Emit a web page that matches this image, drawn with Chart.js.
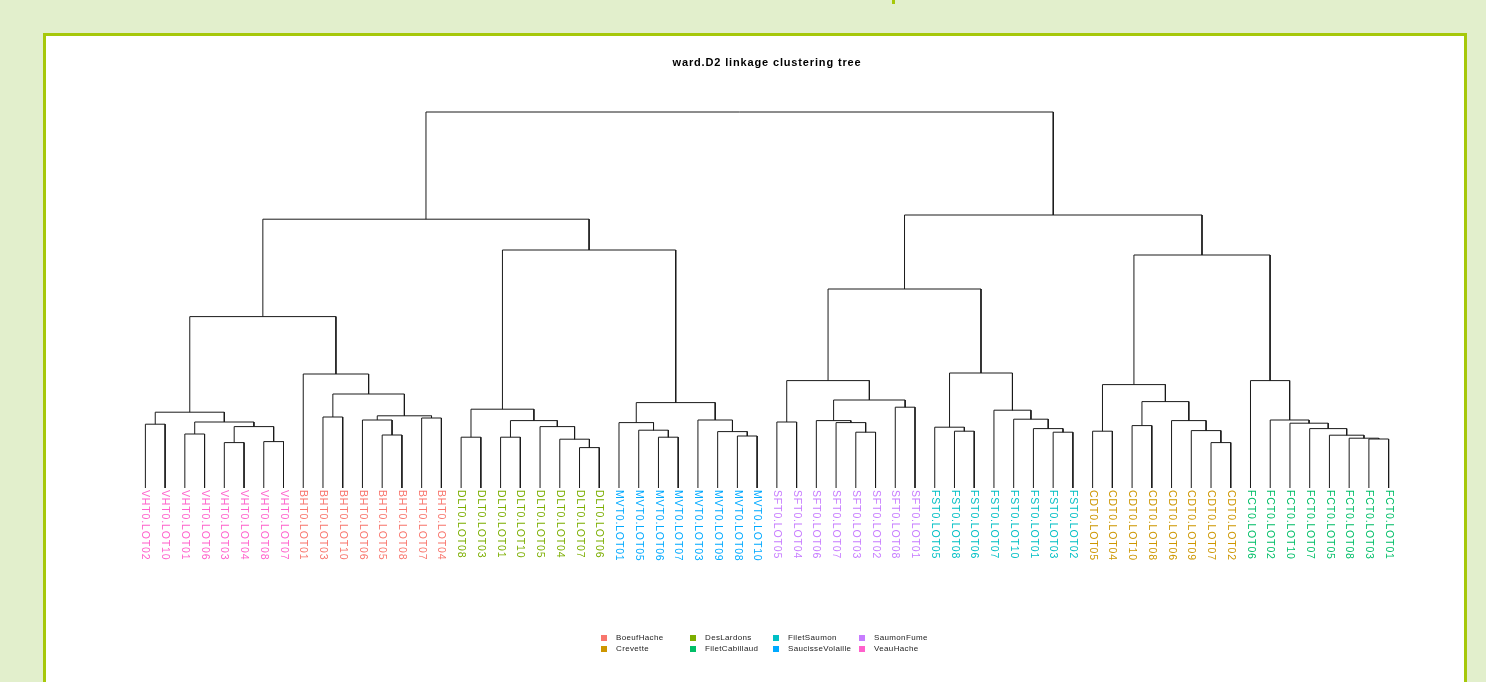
<!DOCTYPE html>
<html>
<head>
<meta charset="utf-8">
<title>ward.D2 linkage clustering tree</title>
<script src="https://cdn.jsdelivr.net/npm/chart.js@4/dist/chart.umd.min.js"></script>
<style>
  html, body { margin: 0; padding: 0; background: #e2efcc; }
  #wrap { width: 1486px; height: 682px; }
</style>
</head>
<body>
<div id="wrap"><canvas id="tree" width="1486" height="682"></canvas></div>
<script>
// Leaves in dendrogram order (left to right)
const leafLabels = [
  'VHT0.LOT02','VHT0.LOT10','VHT0.LOT01','VHT0.LOT06','VHT0.LOT03','VHT0.LOT04','VHT0.LOT08','VHT0.LOT07',
  'BHT0.LOT01','BHT0.LOT03','BHT0.LOT10','BHT0.LOT06','BHT0.LOT05','BHT0.LOT08','BHT0.LOT07','BHT0.LOT04',
  'DLT0.LOT08','DLT0.LOT03','DLT0.LOT01','DLT0.LOT10','DLT0.LOT05','DLT0.LOT04','DLT0.LOT07','DLT0.LOT06',
  'MVT0.LOT01','MVT0.LOT05','MVT0.LOT06','MVT0.LOT07','MVT0.LOT03','MVT0.LOT09','MVT0.LOT08','MVT0.LOT10',
  'SFT0.LOT05','SFT0.LOT04','SFT0.LOT06','SFT0.LOT07','SFT0.LOT03','SFT0.LOT02','SFT0.LOT08','SFT0.LOT01',
  'FST0.LOT05','FST0.LOT08','FST0.LOT06','FST0.LOT07','FST0.LOT10','FST0.LOT01','FST0.LOT03','FST0.LOT02',
  'CDT0.LOT05','CDT0.LOT04','CDT0.LOT10','CDT0.LOT08','CDT0.LOT06','CDT0.LOT09','CDT0.LOT07','CDT0.LOT02',
  'FCT0.LOT06','FCT0.LOT02','FCT0.LOT10','FCT0.LOT07','FCT0.LOT05','FCT0.LOT08','FCT0.LOT03','FCT0.LOT01'
];

// Product groups
const groupNames  = ['BoeufHache','Crevette','DesLardons','FiletCabillaud','FiletSaumon','SaucisseVolaille','SaumonFume','VeauHache'];
const groupCodes  = ['BHT','CDT','DLT','FCT','FST','MVT','SFT','VHT'];
const groupColors = ['#F8766D','#CD9600','#7CAE00','#00BE67','#00BFC4','#00A9FF','#C77CFF','#FF61CC'];

// Merge table (hclust style): negative = leaf position (1-based), positive = earlier merge row
const mergeLeft  = [
  -1, -3, -5, -7, 3, 2, 1,
  -10, -13, -12, -15, 10, 8, -9, 7,
  -17, -19, -23, -22, -21, 17, 16,
  -27, -26, -25, -31, -30, -29, 25, 22, 15,
  -33, -37, -36, -35, -39, 35, 32,
  -42, -41, -47, -46, -45, -44, 40, 38,
  -49, -51, -55, -54, -53, 48, 47,
  -63, -62, -61, -60, -59, -58, -57, 53, 46, 31
];
const mergeRight = [
  -2, -4, -6, -8, 4, 5, 6,
  -11, -14, 9, -16, 11, 12, 13, 14,
  -18, -20, -24, 18, 19, 20, 21,
  -28, 23, 24, -32, 26, 27, 28, 29, 30,
  -34, -38, 33, 34, -40, 36, 37,
  -43, 39, -48, 41, 42, 43, 44, 45,
  -50, -52, -56, 49, 50, 51, 52,
  -64, 54, 55, 56, 57, 58, 59, 60, 61, 62
];
const mergeHeight = [
  3.19, 2.70, 2.27, 2.32, 3.07, 3.30, 3.79,
  3.55, 2.65, 3.40, 3.50, 3.61, 4.70, 5.70, 8.57,
  2.54, 2.54, 2.02, 2.44, 3.07, 3.37, 3.94,
  2.54, 2.89, 3.27, 2.60, 2.82, 3.40, 4.27, 11.90, 13.44,
  3.30, 2.79, 3.27, 3.37, 4.04, 4.40, 5.37,
  2.84, 3.04, 2.79, 2.97, 3.44, 3.89, 5.75, 9.95,
  2.84, 3.12, 2.27, 2.87, 3.37, 4.32, 5.17,
  2.45, 2.49, 2.64, 2.97, 3.24, 3.40, 5.37, 11.65, 13.65, 18.80
];

const chartTitle = 'ward.D2 linkage clustering tree';

// ---- build the elbow segments for every merge ----
const nodeX = [];
const nodeH = [];
function childPos(ref) {
  if (ref < 0) return { x: -ref - 1, h: 0 };
  return { x: nodeX[ref - 1], h: nodeH[ref - 1] };
}
const datasets = [];
for (let i = 0; i < mergeHeight.length; i++) {
  const a = childPos(mergeLeft[i]);
  const b = childPos(mergeRight[i]);
  const h = mergeHeight[i];
  nodeX.push((a.x + b.x) / 2);
  nodeH.push(h);
  datasets.push({
    data: [{ x: a.x, y: a.h }, { x: a.x, y: h }, { x: b.x, y: h }, { x: b.x, y: b.h }],
    borderColor: '#1a1a1a',
    borderWidth: 1,
    pointRadius: 0,
    tension: 0,
    fill: false
  });
}

function groupIndex(label) {
  return groupCodes.indexOf(label.slice(0, 3));
}

// ---- page frame, title, leaf labels and group key ----
const framePlugin = {
  id: 'frame',
  beforeDraw(chart) {
    const ctx = chart.ctx;
    ctx.save();
    ctx.fillStyle = '#e2efcc';
    ctx.fillRect(0, 0, chart.width, chart.height);
    ctx.fillStyle = '#ffffff';
    ctx.fillRect(44, 34, 1422, 660);
    ctx.strokeStyle = '#a6c80a';
    ctx.lineWidth = 3;
    ctx.strokeRect(44.5, 34.5, 1421, 670);
    ctx.fillStyle = '#a6c80a';
    ctx.fillRect(892, 0, 3, 4);
    ctx.restore();
  },
  afterDatasetsDraw(chart) {
    const ctx = chart.ctx;
    const xs = chart.scales.x, ys = chart.scales.y;
    ctx.save();

    // title
    ctx.font = 'bold 11px "Liberation Sans", Arial, sans-serif';
    ctx.letterSpacing = '0.85px';
    ctx.fillStyle = '#000';
    ctx.textBaseline = 'middle';
    ctx.textAlign = 'left';
    const tw = ctx.measureText(chartTitle).width;
    const cx = (xs.getPixelForValue(0) + xs.getPixelForValue(leafLabels.length - 1)) / 2;
    ctx.fillText(chartTitle, cx - tw / 2, 63);

    // leaf labels, rotated clockwise
    ctx.font = '10.5px "Liberation Sans", Arial, sans-serif';
    ctx.letterSpacing = '0.85px';
    const y0 = ys.getPixelForValue(0) + 2;
    leafLabels.forEach((lab, i) => {
      const px = xs.getPixelForValue(i);
      ctx.save();
      ctx.translate(px, y0);
      ctx.rotate(Math.PI / 2);
      ctx.fillStyle = groupColors[groupIndex(lab)];
      ctx.textAlign = 'left';
      ctx.textBaseline = 'middle';
      ctx.fillText(lab, 0, 0);
      ctx.restore();
    });

    // group key, two rows filled column by column
    ctx.font = '8px "Liberation Sans", Arial, sans-serif';
    ctx.letterSpacing = '0.35px';
    ctx.textAlign = 'left';
    ctx.textBaseline = 'middle';
    const colX = [601, 690, 773, 859];
    const rowY = [638, 649];
    groupNames.forEach((name, i) => {
      const c = Math.floor(i / 2), r = i % 2;
      ctx.fillStyle = groupColors[i];
      ctx.fillRect(colX[c], rowY[r] - 3, 6, 6);
      ctx.fillStyle = '#222';
      ctx.fillText(name, colX[c] + 15, rowY[r]);
    });
    ctx.restore();
  }
};

new Chart(document.getElementById('tree'), {
  type: 'line',
  data: { datasets },
  options: {
    responsive: false,
    animation: false,
    devicePixelRatio: 1,
    events: [],
    layout: { padding: { left: 99, right: 51, top: 92, bottom: 194 } },
    scales: {
      x: { type: 'linear', min: -2.35, max: 65.35, display: false },
      y: { type: 'linear', min: 0, max: 19.8, display: false }
    },
    plugins: {
      legend: { display: false },
      title: { display: false },
      tooltip: { enabled: false }
    }
  },
  plugins: [framePlugin]
});
</script>
</body>
</html>
